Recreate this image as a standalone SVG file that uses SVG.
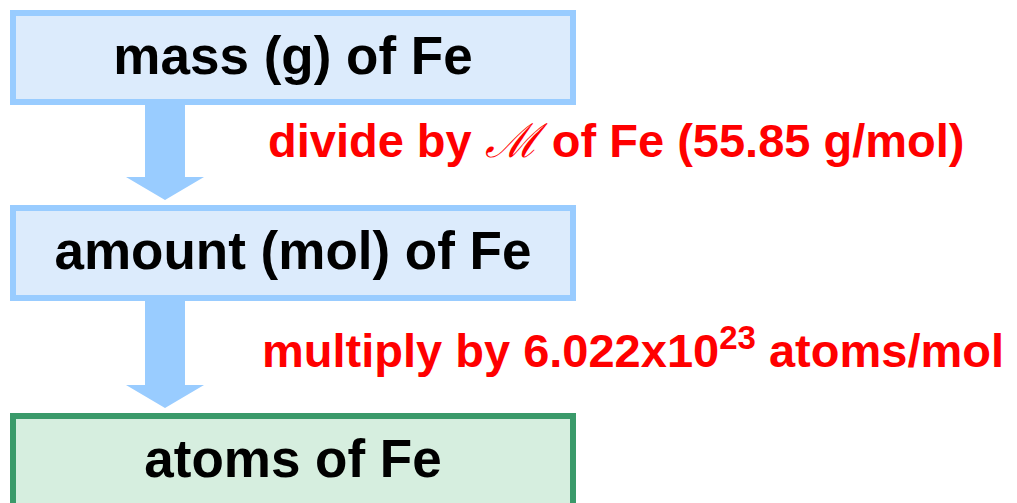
<svg xmlns="http://www.w3.org/2000/svg" width="1017" height="503" viewBox="0 0 1017 503">
<defs>
<style>
.box{fill:#DCEBFC;stroke:#99CCFF;stroke-width:6}
.gbox{fill:#D6EEDF;stroke:#3A9A6A;stroke-width:6}
.lbl{font-family:"Liberation Sans",Arial,sans-serif;font-weight:bold;font-size:53px;fill:#000;text-anchor:middle}
.red{font-family:"Liberation Sans",Arial,sans-serif;font-weight:bold;font-size:47px;fill:#FF0000}
.scr{font-family:"DejaVu Serif",serif;font-weight:normal;font-style:italic}
.arr{fill:#99CCFF}
</style>
</defs>
<rect width="1017" height="503" fill="#fff"/>
<g id="connectors">
<polygon class="arr" points="145,105 185,105 185,177 204,177 165,200 126,177 145,177"/>
<polygon class="arr" points="145,301 185,301 185,385 204,385 165,408 126,385 145,385"/>
</g>
<g id="node-mass">
<rect class="box" x="13" y="13" width="560" height="89"/>
<text class="lbl" x="293" y="74">mass (g) of Fe</text>
</g>
<g id="node-amount">
<rect class="box" x="13" y="208" width="560" height="90"/>
<text class="lbl" x="293" y="269">amount (mol) of Fe</text>
</g>
<g id="node-atoms">
<rect class="gbox" x="13" y="416" width="560" height="100"/>
<text class="lbl" x="293" y="477">atoms of Fe</text>
</g>
<g id="label-divide">
<text class="red" x="268" y="157">divide by <tspan class="scr">ℳ</tspan> of Fe (55.85 g/mol)</text>
</g>
<g id="label-multiply">
<text class="red" x="262" y="367" font-size="47.5px">multiply by 6.022x10<tspan font-size="33px" dy="-18">23</tspan><tspan dy="18"> atoms/mol</tspan></text>
</g>
</svg>
